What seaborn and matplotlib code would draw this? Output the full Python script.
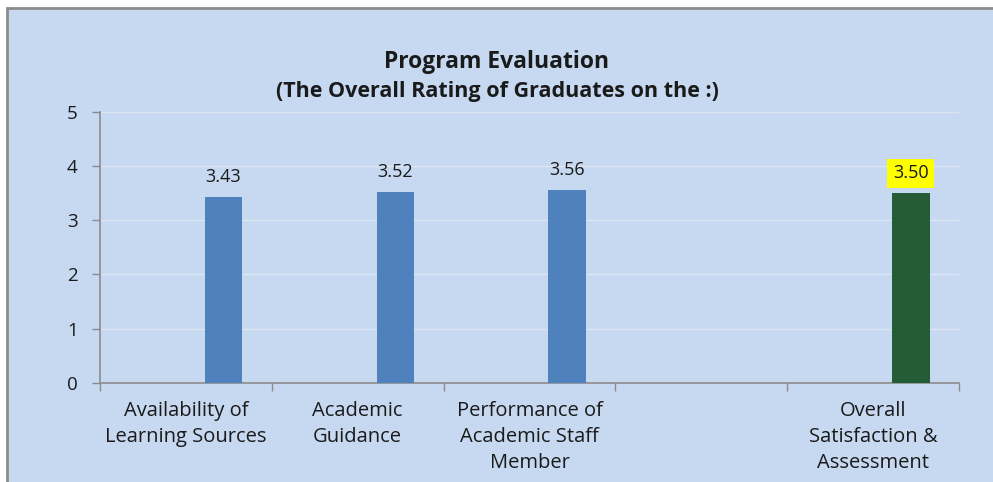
import matplotlib
matplotlib.use('Agg')
import numpy as np
import pandas as pd
import seaborn as sns
import matplotlib.pyplot as plt
from matplotlib.patches import Rectangle
from matplotlib.ticker import FixedLocator

# categories on the x axis (4th slot is left empty in the original chart)
categories = ['Availability of Learning Sources', 'Academic Guidance',
              'Performance of Academic Staff Member', '',
              'Overall Satisfaction & Assessment']
tick_labels = ['Availability of\nLearning Sources', 'Academic\nGuidance',
               'Performance of\nAcademic Staff\nMember', '',
               'Overall\nSatisfaction &\nAssessment']

# ratings
criteria = ['Availability of Learning Sources', 'Academic Guidance',
            'Performance of Academic Staff Member']
criteria_scores = [3.43, 3.52, 3.56]
overall = ['Overall Satisfaction & Assessment']
overall_scores = [3.50]

# the original excel chart has 3 series, the first two are empty
series_slots = ['series 1', 'series 2']

bg = '#C6D9F1'
blue = '#4F81BD'
green = '#255C38'
grey = '#8C8C8C'
txt = '#1a1a1a'

sns.set_style('ticks', {'axes.facecolor': bg})
plt.rcParams['font.family'] = ['Open Sans', 'DejaVu Sans']

df_criteria = pd.DataFrame({'item': criteria, 'score': criteria_scores, 'series': 'Rating'})
df_overall = pd.DataFrame({'item': overall, 'score': overall_scores, 'series': 'Overall'})

fig = plt.figure(figsize=(9.93, 4.82), dpi=100, facecolor='white')
fig.patches.append(Rectangle((7 / 993, -0.05), 1.1, 1.05 - 8 / 482,
                             transform=fig.transFigure, facecolor=bg,
                             edgecolor=grey, linewidth=2, zorder=-1))
ax = fig.add_axes([100 / 993, 99.3 / 482, 859 / 993, 270.7 / 482])

sns.barplot(data=df_criteria, x='item', y='score', hue='series', order=categories,
            hue_order=series_slots + ['Rating'], dodge=True,
            palette={'series 1': blue, 'series 2': blue, 'Rating': blue},
            width=0.657, saturation=1, linewidth=0, legend=False, ax=ax, zorder=3)
n_before = len(ax.containers)
sns.barplot(data=df_overall, x='item', y='score', hue='series', order=categories,
            hue_order=series_slots + ['Overall'], dodge=True,
            palette={'series 1': green, 'series 2': green, 'Overall': green},
            width=0.657, saturation=1, linewidth=0, legend=False, ax=ax, zorder=3)

# data labels, the overall one gets a yellow box
for i, c in enumerate(ax.containers):
    if len(c) == 0:
        continue
    lbl = ax.bar_label(c, fmt='%.2f', padding=8, fontsize=13, color=txt)
    if i >= n_before:
        for t in lbl:
            t.set_bbox(dict(boxstyle='square,pad=0.3', facecolor='#FFFF00',
                            edgecolor='none'))

ax.set_xlim(-0.5, len(categories) - 0.5)
ax.set_ylim(0, 5)
ax.set_yticks(range(6))
ax.set_xticks(range(len(categories)))
ax.set_xticklabels(tick_labels, fontsize=14.5, color=txt, linespacing=1.4)
ax.xaxis.set_minor_locator(FixedLocator(np.arange(len(categories) + 1) - 0.5))
ax.tick_params(axis='x', which='major', length=0, pad=13)
ax.tick_params(axis='x', which='minor', length=6, width=1, color=grey)
ax.tick_params(axis='y', length=6, width=1, color=grey, pad=10, labelsize=13.5,
               labelcolor=txt)
ax.yaxis.grid(True, color='#DCE6F3', linewidth=1)
ax.set_axisbelow(True)
ax.set_xlabel('')
ax.set_ylabel('')
for s in ['top', 'right']:
    ax.spines[s].set_visible(False)
for s in ['left', 'bottom']:
    ax.spines[s].set_color(grey)
    ax.spines[s].set_linewidth(1.2)

fig.text(497 / 993, 1 - 62 / 482, 'Program Evaluation', ha='center', va='center',
         fontsize=16.5, fontweight='bold', color=txt)
fig.text(497 / 993, 1 - 92 / 482, '(The Overall Rating of Graduates on the :)',
         ha='center', va='center', fontsize=15.5, fontweight='bold', color=txt)

fig.savefig('out.png', dpi=100, facecolor=fig.get_facecolor())
